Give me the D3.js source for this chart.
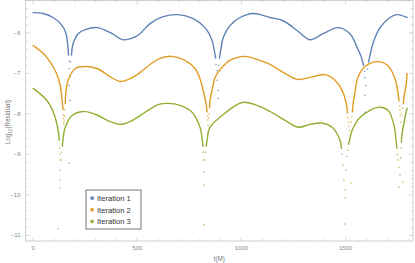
<!DOCTYPE html>
<html lang="en">
<head>
    <meta charset="UTF-8">
    <title>Residual iterations</title>
    <script src="https://d3js.org/d3.v7.min.js"></script>
    <style>
        body{ margin:0; background:#fff; }
        svg{ display:block; font-family:"Liberation Sans", Arial, sans-serif; }
        .tick-label{ font-size:6px; fill:#888; }
        .axis-title{ font-size:6.3px; fill:#777; }
        .legend-text{ font-size:7.6px; fill:#333; }
    </style>
</head>
<body>
<script>
    // series names + colours
    const seriesNames = ["Iteration 1","Iteration 2","Iteration 3"]
    const seriesColors = ["#5e81b5","#e19c24","#8fb032"]

    // smooth parts of each curve (null = break at a cusp)
    const iter1T = [0,48,96,139,158,166,170,null,184,192,216,250,307,369,432,480,513,561,624,696,768,825,859,869,876,null,894,902,912,945,993,1056,1137,1200,1267,1329,1392,1464,1521,1555,1574,1586,null,1610,1617,1631,1665,1713,1747,1795]
    const iter1V = [-5.50,-5.52,-5.62,-5.82,-6.02,-6.30,-6.55,null,-6.55,-6.26,-6.02,-5.92,-5.87,-5.99,-6.17,-6.12,-6.02,-5.77,-5.60,-5.55,-5.65,-5.87,-6.19,-6.42,-6.62,null,-6.62,-6.38,-6.12,-5.82,-5.62,-5.52,-5.62,-5.70,-5.94,-6.17,-6.02,-5.87,-6.02,-6.36,-6.58,-6.80,null,-6.72,-6.56,-6.26,-5.87,-5.62,-5.55,-5.62]

    const iter2T = [0,58,106,130,139,144,null,154,158,168,202,250,307,369,417,465,513,561,609,667,729,777,801,816,830,835,null,847,849,864,873,907,945,1017,1089,1137,1209,1272,1329,1401,1449,1483,1502,1509,null,1533,1535,1545,1559,1593,1655,1703,1737,1751,1756,null,1777,1780,1790,1795]
    const iter2V = [-6.31,-6.56,-6.93,-7.30,-7.67,-7.90,null,-7.75,-7.42,-7.17,-6.88,-6.83,-6.88,-7.08,-7.20,-7.13,-6.98,-6.78,-6.63,-6.58,-6.68,-6.88,-7.13,-7.42,-7.74,-7.95,null,-7.85,-7.67,-7.30,-7.10,-6.85,-6.68,-6.58,-6.68,-6.78,-7.00,-7.15,-7.10,-7.03,-7.17,-7.42,-7.72,-7.98,null,-7.95,-7.79,-7.47,-7.10,-6.83,-6.71,-6.81,-7.13,-7.47,-7.68,null,-7.75,-7.59,-7.30,-7.00]

    const iter3T = [0,58,82,106,120,125,null,140,144,154,187,240,298,369,417,465,537,600,648,705,763,801,811,815,null,831,835,849,907,1003,1065,1137,1209,1272,1329,1387,1435,1473,1480,null,1514,1521,1531,1569,1655,1703,1732,1742,1746,null,1768,1770,1785,1795]
    const iter3V = [-7.37,-7.62,-7.79,-8.09,-8.41,-8.65,null,-8.80,-8.60,-8.33,-8.04,-7.94,-8.01,-8.19,-8.26,-8.19,-7.96,-7.77,-7.74,-7.79,-7.96,-8.33,-8.60,-8.80,null,-8.80,-8.65,-8.33,-8.04,-7.72,-7.77,-7.94,-8.16,-8.33,-8.26,-8.23,-8.33,-8.65,-8.85,null,-8.75,-8.60,-8.41,-8.09,-7.84,-7.91,-8.28,-8.65,-8.85,null,-8.70,-8.53,-8.09,-7.86]

    // sparse points inside the cusps
    const dots1T = [173,173,178,173,178,173,180,878,883,883,888,888,891,1591,1593,1598,1593,1593,1605]
    const dots1V = [-6.70,-6.88,-7.05,-7.30,-7.67,-9.22,-6.72,-6.78,-6.93,-7.17,-7.42,-7.62,-6.80,-6.95,-7.10,-7.30,-7.54,-7.96,-6.90]

    const dots2T = [146,146,149,147,150,152,837,838,840,840,843,845,1511,1514,1516,1521,1526,1526,1530,1759,1761,1762,1766,1775,1770,1774]
    const dots2V = [-8.02,-8.12,-8.18,-8.24,-8.05,-7.90,-8.06,-8.15,-8.28,-8.46,-8.10,-8.00,-8.10,-8.20,-8.30,-8.41,-9.71,-8.20,-8.08,-7.80,-7.90,-8.04,-8.21,-9.69,-8.00,-7.86]

    const dots3T = [127,128,130,130,130,130,120,134,137,817,818,821,821,821,825,829,1483,1487,1492,1497,1497,1497,1502,1507,1511,1748,1751,1756,1756,1761,1764,1766]
    const dots3V = [-8.85,-9.00,-9.14,-9.39,-9.64,-9.84,-10.84,-9.14,-8.95,-8.95,-9.14,-9.44,-9.76,-10.74,-9.14,-8.95,-9.00,-9.27,-9.64,-9.88,-10.08,-10.72,-9.39,-9.05,-8.90,-9.00,-9.14,-9.32,-9.81,-9.51,-9.09,-8.85]

    const xTicks = [0,500,1000,1500]
    const yTicks = [-6,-7,-8,-9,-10,-11]

    const size = {width:415,height:263}
    const frame = {left:25.5,right:413,top:0.5,bottom:241}

    const xScale = d3.scaleLinear().domain([-36.7,1823.4]).range([frame.left,frame.right])
    const yScale = d3.scaleLinear().domain([-5.2,-11.14]).range([frame.top,frame.bottom])

    const svg = d3.select("body").append("svg")
                    .attr("width",size.width)
                    .attr("height",size.height)

    // frame
    svg.append("rect")
        .attr("x",frame.left).attr("y",frame.top)
        .attr("width",frame.right-frame.left).attr("height",frame.bottom-frame.top)
        .attr("fill","none").attr("stroke","#c4c4c4").attr("stroke-width",0.8)

    const xMinor = d3.range(0,1801,100)
    const yMinor = d3.range(-11,-5.19,0.2)
    const tickG = svg.append("g").attr("stroke","#c4c4c4").attr("stroke-width",0.7)

    xMinor.forEach(v=>{
        const len = xTicks.includes(v) ? 4 : 2.2
        const x = xScale(v)
        tickG.append("line").attr("x1",x).attr("x2",x).attr("y1",frame.bottom).attr("y2",frame.bottom-len)
        tickG.append("line").attr("x1",x).attr("x2",x).attr("y1",frame.top).attr("y2",frame.top+len)
    })
    yMinor.forEach(v=>{
        const major = Math.abs(v-Math.round(v))<0.01
        const len = major ? 4 : 2.2
        const y = yScale(v)
        tickG.append("line").attr("x1",frame.left).attr("x2",frame.left+len).attr("y1",y).attr("y2",y)
        tickG.append("line").attr("x1",frame.right).attr("x2",frame.right-len).attr("y1",y).attr("y2",y)
    })

    svg.selectAll(".xlab").data(xTicks).enter().append("text")
        .attr("class","tick-label")
        .attr("x",d=>xScale(d)).attr("y",frame.bottom+9)
        .attr("text-anchor","middle")
        .text(d=>d)

    svg.selectAll(".ylab").data(yTicks).enter().append("text")
        .attr("class","tick-label")
        .attr("x",frame.left-5).attr("y",d=>yScale(d)+2)
        .attr("text-anchor","end")
        .text(d=>"\u2212"+Math.abs(d))

    // axis titles
    svg.append("text").attr("class","axis-title")
        .attr("x",(frame.left+frame.right)/2).attr("y",261)
        .attr("text-anchor","middle").text("t(M)")

    const yt = svg.append("text").attr("class","axis-title")
        .attr("transform","translate(10,122) rotate(-90)")
        .attr("text-anchor","middle")
    yt.append("tspan").text("Log")
    yt.append("tspan").attr("dy",1.5).attr("font-size","4.5px").text("10")
    yt.append("tspan").attr("dy",-1.5).text("(Residual)")

    // curves
    const lineGen = d3.line()
        .defined(d=>d.v!==null)
        .x(d=>xScale(d.t)).y(d=>yScale(d.v))
        .curve(d3.curveCatmullRom.alpha(0.5))

    const curveTs = [iter1T,iter2T,iter3T]
    const curveVs = [iter1V,iter2V,iter3V]
    const dotTs = [dots1T,dots2T,dots3T]
    const dotVs = [dots1V,dots2V,dots3V]

    const plot = svg.append("g")
    seriesNames.forEach((name,i)=>{
        const pts = curveTs[i].map((t,j)=>({t:t,v:curveVs[i][j]}))
        plot.append("path")
            .attr("d",lineGen(pts))
            .attr("fill","none")
            .attr("stroke",seriesColors[i])
            .attr("stroke-width",1.4)
            .attr("stroke-linecap","round")

        const dots = dotTs[i].map((t,j)=>({t:t,v:dotVs[i][j]}))
        plot.selectAll(".dot"+i).data(dots).enter().append("circle")
            .attr("cx",d=>xScale(d.t)).attr("cy",d=>yScale(d.v))
            .attr("r",0.75)
            .attr("fill",seriesColors[i])
            .attr("opacity",0.85)
    })

    // legend
    const legend = svg.append("g").attr("transform","translate(86,190)")
    legend.append("rect")
        .attr("width",55).attr("height",39)
        .attr("fill","#fff").attr("stroke","#777").attr("stroke-width",1)
    seriesNames.forEach((name,i)=>{
        legend.append("rect")
            .attr("x",4.5).attr("y",6.5+i*11.7)
            .attr("width",3.2).attr("height",3.2)
            .attr("fill",seriesColors[i])
        legend.append("text")
            .attr("class","legend-text")
            .attr("x",11).attr("y",10.8+i*11.7)
            .text(name)
    })
</script>
</body>
</html>
